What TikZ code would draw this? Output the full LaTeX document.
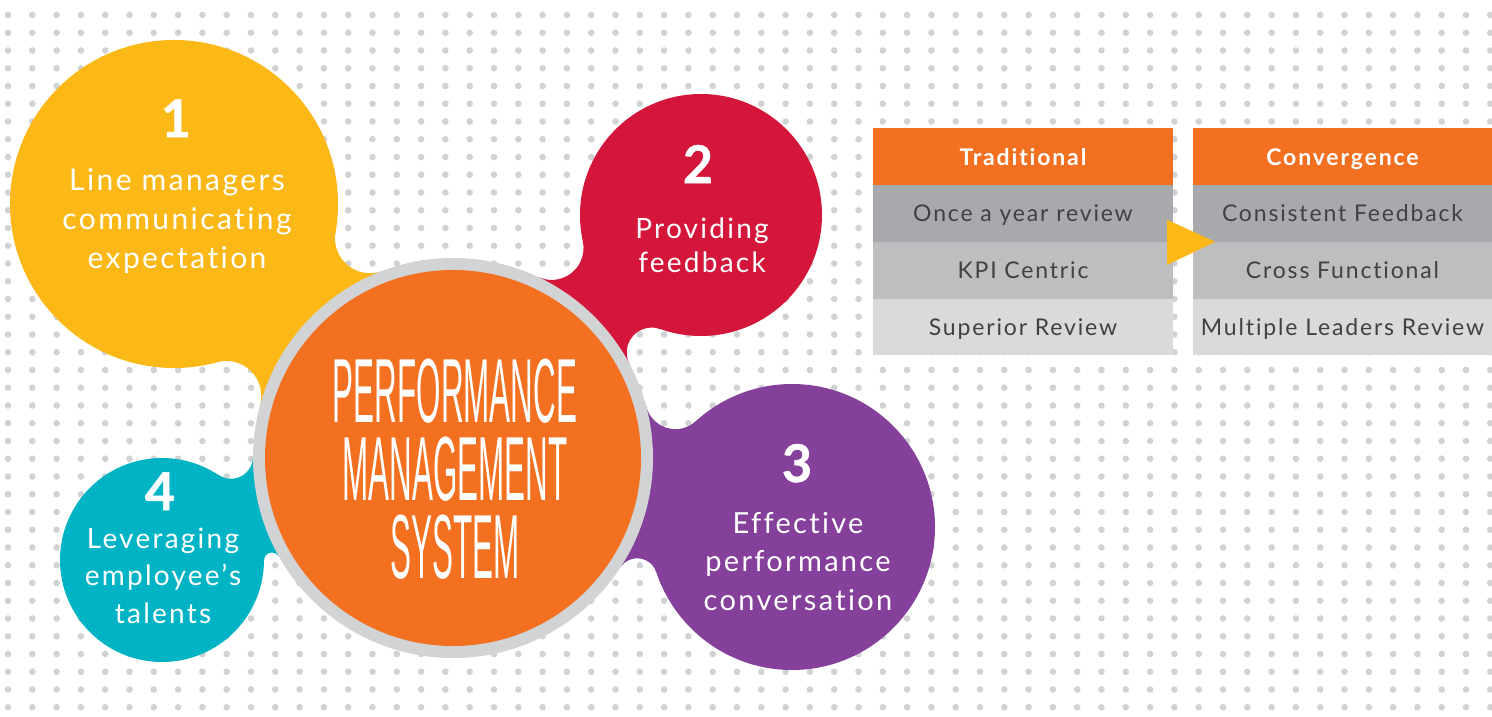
\documentclass[tikz,border=0pt]{standalone}
\usepackage{fontspec}
\setmainfont{Lato}[LetterSpace=8, Ligatures=NoCommon]
\IfFontExistsTF{FiraSans-Light.otf}
  {\newfontfamily\pmsfont{FiraSans-Light.otf}\def\pmsscale{0.375}\def\pmssize{94}}
  {\newfontfamily\pmsfont{Liberation Sans}\def\pmsscale{0.345}\def\pmssize{91}}
\usetikzlibrary{calc,positioning}
\definecolor{pmyellow}{HTML}{FBB817}
\definecolor{pmred}{HTML}{D4163B}
\definecolor{pmpurple}{HTML}{84409A}
\definecolor{pmteal}{HTML}{00B4C5}
\definecolor{pmorange}{HTML}{F37021}
\definecolor{ringgray}{HTML}{D1D3D4}
\definecolor{dotgray}{HTML}{D1D2D4}
\definecolor{rowone}{HTML}{A7A9AC}
\definecolor{rowtwo}{HTML}{BCBEC0}
\definecolor{rowthree}{HTML}{D9DADB}
\definecolor{celltext}{HTML}{414042}
\tikzset{
  bubblenum/.style={text=white, anchor=base, inner sep=0pt,
    font=\fontsize{52}{52}\selectfont\bfseries\addfontfeatures{FakeBold=1}},
  bubbletext/.style={text=white, anchor=base, inner sep=0pt, align=center},
  cell/.style={minimum width=300pt, minimum height=56.5pt, inner sep=0pt, text height=17pt, text depth=0pt,
    font=\fontsize{23}{23}\selectfont, text=celltext},
  headcell/.style={cell, fill=pmorange, text=white, font=\fontsize{23}{23}\selectfont\bfseries},
}

\begin{document}
\begin{tikzpicture}[x=1pt,y=-1pt]
\useasboundingbox (0,0) rectangle (1492,717);
\fill[white] (0,0) rectangle (1492,717);
% dotted background
\foreach \i in {0,...,61}
  \foreach \j in {0,...,39}
    \fill[dotgray] ({8+24.3*\i},{15+17.75*\j}) circle (3.3);
\coordinate (pms) at (453,458);
\coordinate (b1) at (174,204);
\coordinate (b2) at (701,215);
\coordinate (b3) at (792,527);
\coordinate (b4) at (162,560);
% necks
\fill[pmyellow] (382.3,270.9) arc[start angle=69.3, end angle=189.9, radius=35] -- (b1)
  -- (217.1,362.2) arc[start angle=254.7, end angle=375.2, radius=35] -- (pms) -- cycle;
\fill[pmred] (538,276.9) arc[start angle=115.1, end angle=-12.5, radius=32] -- (b2)
  -- (660.1,329) arc[start angle=289.7, end angle=152.1, radius=25] -- (pms) -- cycle;
\fill[pmpurple] (646.4,406.9) arc[start angle=165.1, end angle=47.7, radius=30] -- (b3)
  -- (656.2,572) arc[start angle=341.7, end angle=213.1, radius=20] -- (pms) -- cycle;
\fill[pmteal] (253,456.9) arc[start angle=0.3, end angle=123.7, radius=22] -- (b4)
  -- (264,560.5) arc[start angle=180, end angle=330.9, radius=8] -- (pms) -- cycle;
% bubbles
\fill[pmyellow] (b1) circle (164);
\fill[pmred] (b2) circle (121);
\fill[pmpurple] (b3) circle (143);
\fill[pmteal] (b4) circle (102);
\fill[ringgray] (pms) circle (200);
\fill[pmorange] (pms) circle (188);
\node[anchor=base, text=white, inner sep=0pt, align=center, xscale=\pmsscale,
  font=\pmsfont\fontsize{\pmssize}{78}\selectfont] (title) at (455,578) {PERFORMANCE\\MANAGEMENT\\SYSTEM};
\node[bubblenum] (n1) at (176,137) {1};
\node[bubbletext, font=\fontsize{30}{39}\selectfont] (t1) at (177,268) {Line managers\\communicating\\expectation};
\node[bubblenum] (n2) at (698,183) {2};
\node[bubbletext, font=\fontsize{28}{34}\selectfont] (t2) at (702,272) {Providing\\feedback};
\node[bubblenum] (n3) at (797,482) {3};
\node[bubbletext, font=\fontsize{29}{38.5}\selectfont] (t3) at (798,610) {Effective\\performance\\conversation};
\node[bubblenum] (n4) at (160,510) {4};
\node[bubbletext, font=\fontsize{28}{37.5}\selectfont] (t4) at (163,623) {Leveraging\\employee’s\\talents};
% tables
\node[headcell] (trad) at (1023,156.5) {Traditional};
\node[cell, fill=rowone, below=0pt of trad] (trad1) {Once a year review};
\node[cell, fill=rowtwo, below=0pt of trad1] (trad2) {KPI Centric};
\node[cell, fill=rowthree, below=0pt of trad2] (trad3) {Superior Review};
\node[headcell, minimum width=299pt] (conv) at (1342.5,156.5) {Convergence};
\node[cell, fill=rowone, minimum width=299pt, below=0pt of conv] (conv1) {Consistent Feedback};
\node[cell, fill=rowtwo, minimum width=299pt, below=0pt of conv1] (conv2) {Cross Functional};
\node[cell, fill=rowthree, minimum width=299pt, below=0pt of conv2] (conv3) {Multiple Leaders Review};
\fill[pmyellow] ($(trad1.south east)+(-6,-22)$) -- ($(trad1.south east)+(42,0)$) -- ($(trad1.south east)+(-6,23)$) -- cycle;
\end{tikzpicture}
\end{document}
